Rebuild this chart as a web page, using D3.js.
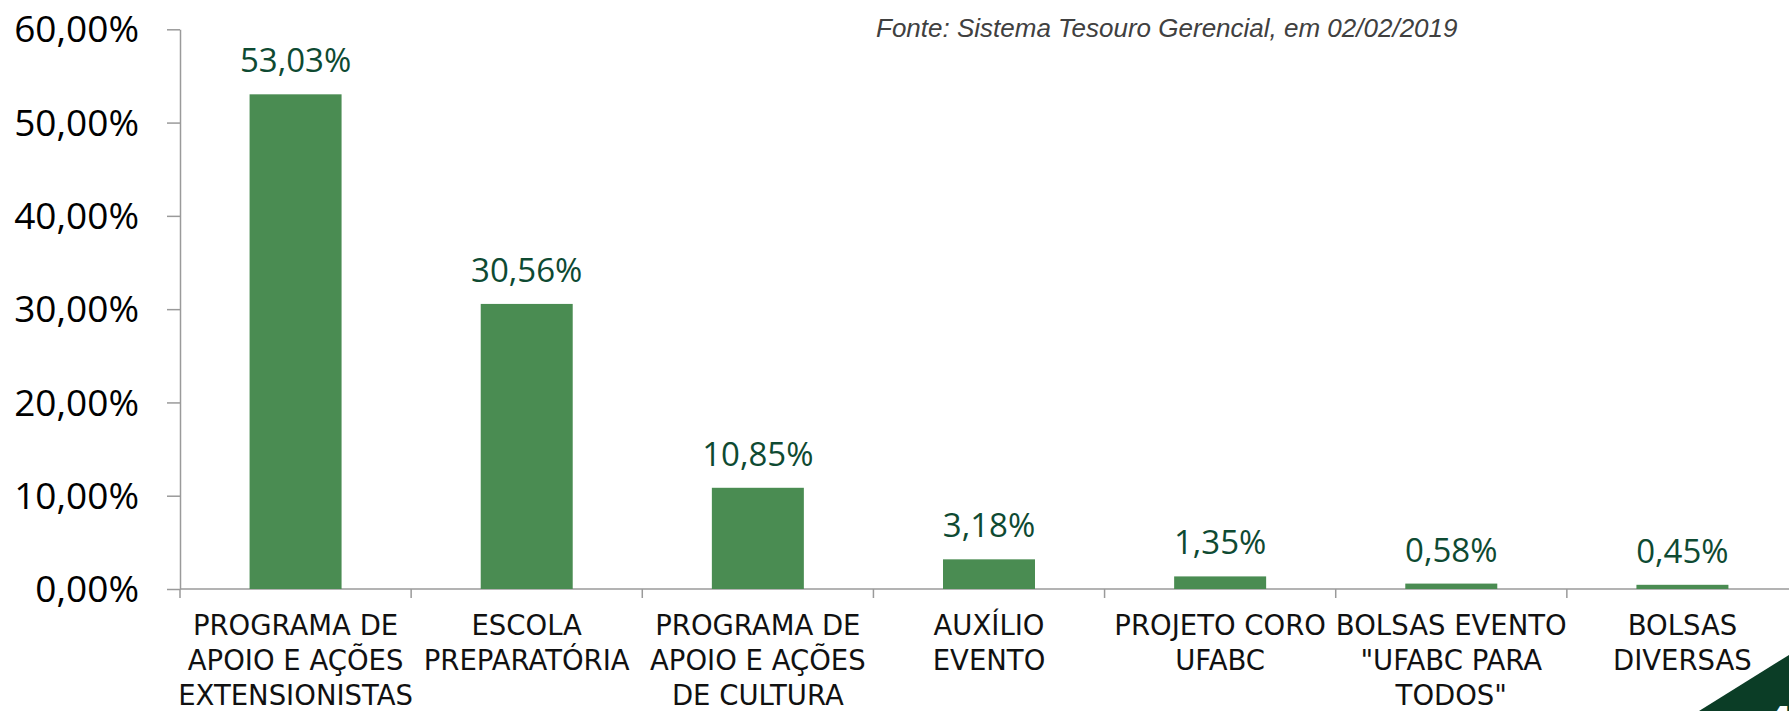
<!DOCTYPE html>
<html>
<head>
<meta charset="utf-8">
<script src="https://cdn.jsdelivr.net/npm/d3@7.9.0/dist/d3.min.js"></script>
<style>
  html, body { margin: 0; padding: 0; background: #fff; overflow: hidden; }
  svg { display: block; }
</style>
</head>
<body>
<svg id="chart" width="1789" height="711"></svg>
<script>
// categories (wrapped the way the original labels wrap)
const categories = [
  'PROGRAMA DE APOIO E AÇÕES EXTENSIONISTAS',
  'ESCOLA PREPARATÓRIA',
  'PROGRAMA DE APOIO E AÇÕES DE CULTURA',
  'AUXÍLIO EVENTO',
  'PROJETO CORO UFABC',
  'BOLSAS EVENTO "UFABC PARA TODOS"',
  'BOLSAS DIVERSAS'
];
const categoryLines = [
  ['PROGRAMA DE', 'APOIO E AÇÕES', 'EXTENSIONISTAS'],
  ['ESCOLA', 'PREPARATÓRIA'],
  ['PROGRAMA DE', 'APOIO E AÇÕES', 'DE CULTURA'],
  ['AUXÍLIO', 'EVENTO'],
  ['PROJETO CORO', 'UFABC'],
  ['BOLSAS EVENTO', '"UFABC PARA', 'TODOS"'],
  ['BOLSAS', 'DIVERSAS']
];
// share of total (fraction)
const shares = [0.5303, 0.3056, 0.1085, 0.0318, 0.0135, 0.0058, 0.0045];
const yTicks = [0, 0.1, 0.2, 0.3, 0.4, 0.5, 0.6];
const sourceNote = 'Fonte: Sistema Tesouro Gerencial, em 02/02/2019';
const pageNumber = '4';

const svg = d3.select('#chart');

const ptBR = d3.formatLocale({ decimal: ',', thousands: '.', grouping: [3], currency: ['R$', ''] });
const pct = ptBR.format('.2%');

// scales
const x = d3.scaleBand().domain(categories).range([180, 1798]).padding(0);
const y = d3.scaleLinear().domain([0, 0.6]).range([589, 29.3]);
const barW = x.bandwidth() * 0.398;

// y axis
const yAxis = d3.axisLeft(y)
  .tickValues(yTicks)
  .tickFormat(pct)
  .tickSize(13)
  .tickSizeOuter(0)
  .tickPadding(28);

const gy = svg.append('g')
  .attr('transform', 'translate(180,0)')
  .call(yAxis);
gy.select('.domain').attr('stroke', '#9a9a9a').attr('stroke-width', 1.5);
gy.selectAll('.tick line').attr('stroke', '#9a9a9a').attr('stroke-width', 1.5);
gy.selectAll('.tick text')
  .attr('fill', '#000')
  .attr('font-family', '"Open Sans", sans-serif')
  .attr('font-size', 37)
  .attr('dy', '0.34em');

// x axis line and band-boundary ticks
const gx = svg.append('g');
gx.append('line')
  .attr('x1', x.range()[0]).attr('x2', x.range()[1])
  .attr('y1', y(0)).attr('y2', y(0))
  .attr('stroke', '#9a9a9a').attr('stroke-width', 1.5);
const bounds = categories.map(c => x(c)).concat([x.range()[1]]);
gx.selectAll('line.xt')
  .data(bounds)
  .join('line')
  .attr('class', 'xt')
  .attr('x1', d => d).attr('x2', d => d)
  .attr('y1', y(0)).attr('y2', y(0) + 9)
  .attr('stroke', '#9a9a9a').attr('stroke-width', 1.5);

// bars
svg.append('g')
  .selectAll('rect')
  .data(shares)
  .join('rect')
  .attr('x', (d, i) => x(categories[i]) + (x.bandwidth() - barW) / 2)
  .attr('y', d => y(d))
  .attr('width', barW)
  .attr('height', d => y(0) - y(d))
  .attr('fill', '#4a8c52');

// value labels
svg.append('g')
  .selectAll('text')
  .data(shares)
  .join('text')
  .attr('x', (d, i) => x(categories[i]) + x.bandwidth() / 2)
  .attr('y', d => y(d) - 22)
  .attr('text-anchor', 'middle')
  .attr('font-family', '"Open Sans", sans-serif')
  .attr('font-size', 33)
  .attr('fill', '#0e4a32')
  .text(d => pct(d));

// category labels
const cl = svg.append('g')
  .selectAll('text')
  .data(categoryLines)
  .join('text')
  .attr('text-anchor', 'middle')
  .attr('font-family', '"DejaVu Sans", sans-serif')
  .attr('font-size', 27.5)
  .attr('fill', '#111');
cl.each(function (lines, i) {
  d3.select(this).selectAll('tspan')
    .data(lines)
    .join('tspan')
    .attr('x', x(categories[i]) + x.bandwidth() / 2)
    .attr('y', (d, j) => y(0) + 46 + j * 35)
    .text(d => d);
});

// source note
svg.append('text')
  .attr('x', 876)
  .attr('y', 37)
  .attr('font-family', '"Liberation Sans", Arial, sans-serif')
  .attr('font-style', 'italic')
  .attr('font-size', 26)
  .attr('fill', '#404040')
  .text(sourceNote);

// slide corner decoration with page number
svg.append('polygon')
  .attr('points', '1699,711 1789,655 1789,711')
  .attr('fill', '#0b3d26');
svg.append('text')
  .attr('x', 1766)
  .attr('y', 738)
  .attr('font-family', '"Liberation Sans", Arial, sans-serif')
  .attr('font-weight', 'bold')
  .attr('font-size', 46)
  .attr('fill', '#fff')
  .text(pageNumber);
</script>
</body>
</html>
